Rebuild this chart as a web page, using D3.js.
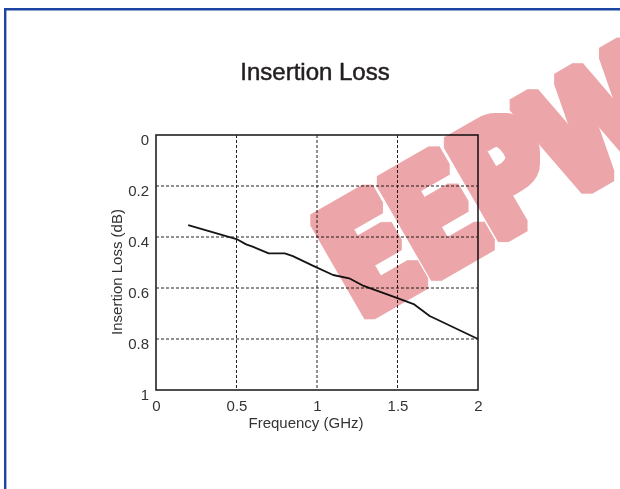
<!DOCTYPE html>
<html>
<head>
<meta charset="utf-8">
<script src="https://cdn.jsdelivr.net/npm/d3@7"></script>
<style>
    body { margin: 0; background: #fff; }
    svg { display: block; }
</style>
</head>
<body>
<div id="chart"></div>
<script>
const [WIDTH, HEIGHT] = [620, 489];

// curve
const frequency = [0.2, 0.5, 0.56, 0.6, 0.7, 0.8, 0.85, 0.98, 1.1, 1.2, 1.29, 1.5, 1.6, 1.7, 2.0];
const insertionLoss = [0.353, 0.408, 0.429, 0.438, 0.464, 0.464, 0.475, 0.514, 0.549, 0.562, 0.592, 0.640, 0.663, 0.710, 0.80];

const xTicks = [0, 0.5, 1, 1.5, 2];
const yTicks = [0, 0.2, 0.4, 0.6, 0.8, 1];
const xGrid = [0.5, 1, 1.5];
const yGrid = [0.2, 0.4, 0.6, 0.8];

const PLOT = { left: 156, right: 478, top: 135, bottom: 390 };
const FONT = '"Liberation Sans", Arial, Helvetica, sans-serif';

const svg = d3.select('#chart').append('svg')
    .attr('width', WIDTH)
    .attr('height', HEIGHT)
    .attr('viewBox', `0 0 ${WIDTH} ${HEIGHT}`)
    .style('font-family', FONT);

const x = d3.scaleLinear().domain([0, 2]).range([PLOT.left, PLOT.right]);
const y = d3.scaleLinear().domain([0, 1]).range([PLOT.top, PLOT.bottom]);

// fattens the watermark letters
svg.append('defs')
    .append('filter')
    .attr('id', 'fatten')
    .attr('x', '-10%').attr('y', '-10%')
    .attr('width', '120%').attr('height', '120%')
    .append('feMorphology')
    .attr('operator', 'dilate')
    .attr('radius', 5);

// blue page frame (left and top edges)
svg.append('path')
    .attr('d', `M5.2,${HEIGHT} V9.3 H${WIDTH}`)
    .attr('fill', 'none')
    .attr('stroke', '#1d44a0')
    .attr('stroke-width', 2.4);

svg.append('text')
    .attr('x', 315)
    .attr('y', 80)
    .attr('text-anchor', 'middle')
    .attr('font-size', 24)
    .attr('fill', '#231f20')
    .attr('stroke', '#231f20')
    .attr('stroke-width', 0.5)
    .text('Insertion Loss');

// dashed grid
const grid = svg.append('g')
    .attr('stroke', '#222')
    .attr('stroke-width', 1)
    .attr('stroke-dasharray', '3,2');

grid.selectAll('.vgrid')
    .data(xGrid)
    .enter().append('line')
    .attr('class', 'vgrid')
    .attr('x1', (d) => x(d)).attr('x2', (d) => x(d))
    .attr('y1', PLOT.top).attr('y2', PLOT.bottom);

grid.selectAll('.hgrid')
    .data(yGrid)
    .enter().append('line')
    .attr('class', 'hgrid')
    .attr('x1', PLOT.left).attr('x2', PLOT.right)
    .attr('y1', (d) => y(d)).attr('y2', (d) => y(d));

// axes, ticks hidden, only labels
const xAxis = svg.append('g')
    .attr('transform', `translate(0,${PLOT.bottom})`)
    .call(d3.axisBottom(x).tickValues(xTicks).tickSize(0).tickPadding(0).tickFormat(d3.format('')));
xAxis.select('.domain').remove();
xAxis.selectAll('text')
    .attr('y', 21)
    .attr('dy', 0)
    .attr('font-size', 15)
    .attr('font-family', FONT)
    .attr('fill', '#333');

const yAxis = svg.append('g')
    .attr('transform', `translate(${PLOT.left},0)`)
    .call(d3.axisLeft(y).tickValues(yTicks).tickSize(0).tickPadding(0).tickFormat(d3.format('')));
yAxis.select('.domain').remove();
yAxis.selectAll('text')
    .attr('x', -7)
    .attr('dy', 0)
    .attr('y', 9)
    .attr('font-size', 15)
    .attr('font-family', FONT)
    .attr('fill', '#333');

svg.append('text')
    .attr('x', 306)
    .attr('y', 428)
    .attr('text-anchor', 'middle')
    .attr('font-size', 15)
    .attr('fill', '#333')
    .text('Frequency (GHz)');

svg.append('text')
    .attr('transform', 'translate(122,272) rotate(-90)')
    .attr('text-anchor', 'middle')
    .attr('font-size', 15)
    .attr('fill', '#333')
    .text('Insertion Loss (dB)');

// the curve
const line = d3.line()
    .x((d) => x(d[0]))
    .y((d) => y(d[1]));

svg.append('path')
    .datum(d3.zip(frequency, insertionLoss))
    .attr('d', line)
    .attr('fill', 'none')
    .attr('stroke', '#151515')
    .attr('stroke-width', 1.8)
    .attr('stroke-linejoin', 'round');

// plot frame
svg.append('rect')
    .attr('x', PLOT.left)
    .attr('y', PLOT.top)
    .attr('width', PLOT.right - PLOT.left)
    .attr('height', PLOT.bottom - PLOT.top)
    .attr('fill', 'none')
    .attr('stroke', '#222')
    .attr('stroke-width', 1.6);

// site watermark laid over the chart
svg.append('g')
    .style('mix-blend-mode', 'multiply')
    .attr('filter', 'url(#fatten)')
    .append('text')
    .attr('transform', 'translate(360,320) rotate(-30) scale(0.8,1)')
    .attr('font-family', '"DejaVu Sans", sans-serif')
    .attr('font-weight', 'bold')
    .attr('font-size', 150)
    .attr('letter-spacing', -6)
    .attr('fill', '#eca6a9')
    .text('EEPW');
</script>
</body>
</html>
